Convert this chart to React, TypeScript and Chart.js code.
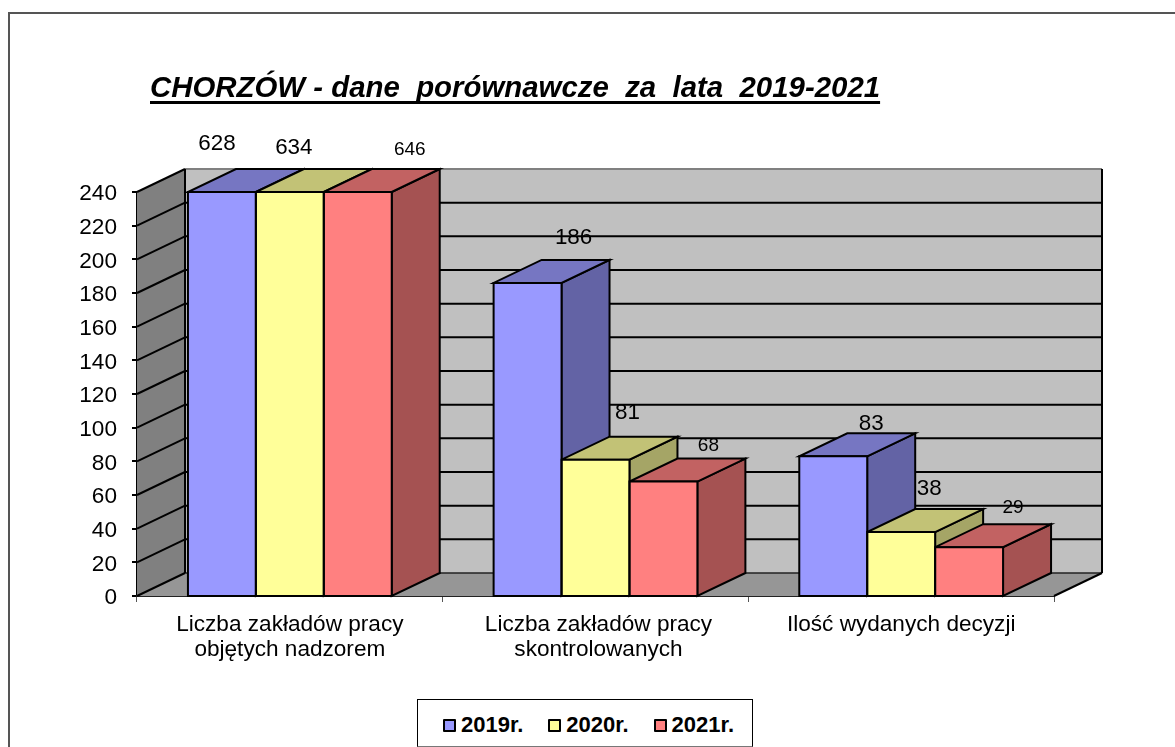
import React, { useEffect, useRef } from "react";
import { Chart, registerables } from "chart.js";

Chart.register(...registerables);

const titleText = "CHORZÓW - dane  porównawcze  za  lata  2019-2021";
const categories = [
  ["Liczba zakładów pracy", "objętych nadzorem"],
  ["Liczba zakładów pracy", "skontrolowanych"],
  ["Ilość wydanych decyzji"],
];
const seriesNames = ["2019r.", "2020r.", "2021r."];
const values2019 = [628, 186, 83];
const values2020 = [634, 81, 38];
const values2021 = [646, 68, 29];
const seriesValues = [values2019, values2020, values2021];

const frontColors = ["#9999FF", "#FFFF99", "#FF8080"];
const topColors = ["#7676C2", "#C2C276", "#C26262"];
const sideColors = ["#6363A5", "#A5A566", "#A55252"];
const labelFontSizes = [22.4, 22.4, 19];
// hand-placed label shifts relative to each bar's top centre
const labelShiftX = [[-5, 46, 38], [4, 32, 28], [52, 45, 44]];
const labelShiftY = [[-48, -45, -32], [-44, -47, -43], [-42, -36, -39]];
// hand-placed shift of the category labels
const categoryShiftX = [0, 3, 0];

const AXIS_MAX = 240;
const AXIS_STEP = 20;
const DEPTH_X = 48;
const DEPTH_Y = 23;
const FONT = "'Liberation Sans', Arial, sans-serif";

function poly(ctx: CanvasRenderingContext2D, pts: number[][], fill?: string, stroke?: string, lw = 2) {
  ctx.beginPath();
  pts.forEach((p, i) => (i ? ctx.lineTo(p[0], p[1]) : ctx.moveTo(p[0], p[1])));
  ctx.closePath();
  if (fill) {
    ctx.fillStyle = fill;
    ctx.fill();
  }
  if (stroke) {
    ctx.strokeStyle = stroke;
    ctx.lineWidth = lw;
    ctx.stroke();
  }
}

function line(ctx: CanvasRenderingContext2D, x1: number, y1: number, x2: number, y2: number, color: string, lw = 2) {
  ctx.beginPath();
  ctx.moveTo(x1, y1);
  ctx.lineTo(x2, y2);
  ctx.strokeStyle = color;
  ctx.lineWidth = lw;
  ctx.stroke();
}

const box3d = {
  id: "box3d",
  afterUpdate(chart: any) {
    // nudge the value-axis labels down to sit on their ticks
    chart.scales.y.getLabelItems(chart.chartArea).forEach((it: any) => {
      it.options.translation = [it.options.translation[0], it.options.translation[1] + 2];
    });
    chart.scales.x.getLabelItems(chart.chartArea).forEach((it: any, i: number) => {
      it.options.translation = [it.options.translation[0] + categoryShiftX[i], it.options.translation[1]];
    });
  },
  beforeDatasetsDraw(chart: any) {
    const { ctx, chartArea: a, scales } = chart;
    const y = scales.y;
    const dx = DEPTH_X;
    const dy = DEPTH_Y;
    ctx.save();
    ctx.lineJoin = "miter";
    // walls
    poly(ctx, [[a.left + dx, a.top - dy], [a.right + dx, a.top - dy], [a.right + dx, a.bottom - dy], [a.left + dx, a.bottom - dy]], "#C0C0C0");
    poly(ctx, [[a.left, a.top], [a.left + dx, a.top - dy], [a.left + dx, a.bottom - dy], [a.left, a.bottom]], "#808080");
    poly(ctx, [[a.left, a.bottom], [a.right, a.bottom], [a.right + dx, a.bottom - dy], [a.left + dx, a.bottom - dy]], "#969696");
    // gridlines on the walls
    y.ticks.forEach((t: any) => {
      const py = y.getPixelForValue(t.value);
      const top = t.value === AXIS_MAX;
      if (t.value !== 0) line(ctx, a.left + dx, py - dy, a.right + dx, py - dy, top ? "#808080" : "#000", 2);
      line(ctx, a.left, py, a.left + dx, py - dy, "#000", 2);
    });
    line(ctx, a.left + dx, a.bottom - dy, a.right + dx, a.bottom - dy, "#222", 1.5);
    line(ctx, a.left + dx, a.top - dy, a.left + dx, a.bottom - dy, "#000", 2);
    line(ctx, a.right + dx, a.top - dy, a.right + dx, a.bottom - dy, "#000", 2);
    line(ctx, a.right, a.bottom, a.right + dx, a.bottom - dy, "#000", 2);

    // top and side faces of every bar, left to right
    const count = chart.data.labels.length;
    for (let c = 0; c < count; c++) {
      chart.data.datasets.forEach((ds: any, s: number) => {
        const el = chart.getDatasetMeta(s).data[c];
        const half = el.width / 2;
        const l = el.x - half;
        const r = el.x + half;
        const t = y.getPixelForValue(Math.min(ds.data[c], AXIS_MAX));
        const b = y.getPixelForValue(0);
        poly(ctx, [[r, t], [r + dx, t - dy], [r + dx, b - dy], [r, b]], sideColors[s], "#000", 2);
        poly(ctx, [[l, t], [r, t], [r + dx, t - dy], [l + dx, t - dy]], topColors[s], "#000", 2);
      });
    }
    ctx.restore();
  },
  afterDatasetsDraw(chart: any) {
    const { ctx, scales } = chart;
    const y = scales.y;
    ctx.save();
    // outlines of the front faces: neighbouring bars share one line
    chart.data.datasets.forEach((ds: any, s: number) => {
      chart.getDatasetMeta(s).data.forEach((el: any, c: number) => {
        const half = el.width / 2;
        const t = y.getPixelForValue(Math.min(ds.data[c], AXIS_MAX));
        const b = y.getPixelForValue(0);
        poly(ctx, [[el.x - half, t], [el.x + half, t], [el.x + half, b], [el.x - half, b]], undefined, "#000", 2);
      });
    });
    chart.data.datasets.forEach((ds: any, s: number) => {
      chart.getDatasetMeta(s).data.forEach((el: any, c: number) => {
        const t = y.getPixelForValue(Math.min(ds.data[c], AXIS_MAX));
        ctx.fillStyle = "#000";
        ctx.font = `${labelFontSizes[s]}px ${FONT}`;
        ctx.textAlign = "center";
        ctx.textBaseline = "middle";
        ctx.fillText(String(ds.data[c]), el.x + labelShiftX[s][c], t + labelShiftY[s][c]);
      });
    });
    ctx.restore();
  },
};

export default function App() {
  const ref = useRef<HTMLCanvasElement>(null);

  useEffect(() => {
    const chart = new Chart(ref.current as HTMLCanvasElement, {
      type: "bar",
      data: {
        labels: categories as any,
        datasets: seriesNames.map((name, i) => ({
          label: name,
          data: seriesValues[i],
          backgroundColor: frontColors[i],
          borderWidth: 0,
          categoryPercentage: 2 / 3,
          barPercentage: 1,
        })),
      },
      plugins: [box3d],
      options: {
        animation: false,
        responsive: false,
        layout: { padding: { left: 0, right: 121, top: 192, bottom: 0 } },
        plugins: { legend: { display: false }, title: { display: false }, tooltip: { enabled: false } },
        scales: {
          y: {
            min: 0,
            max: AXIS_MAX,
            afterFit(scale: any) {
              scale.width = 137;
            },
            ticks: { stepSize: AXIS_STEP, color: "#000", padding: 15, font: { family: FONT, size: 22.6 } },
            grid: { drawOnChartArea: false, drawTicks: true, tickLength: 5, color: "#000", lineWidth: 2 },
            border: { display: true, color: "#000", width: 2 },
          },
          x: {
            afterFit(scale: any) {
              scale.height = 151;
            },
            ticks: { color: "#000", padding: 10, maxRotation: 0, autoSkip: false, font: { family: FONT, size: 22.6, lineHeight: 1.106 } },
            grid: { drawOnChartArea: false, drawTicks: true, tickLength: 6, color: "#555", lineWidth: 1 },
            border: { display: true, color: "#222", width: 2 },
          },
        },
      },
    } as any);
    return () => chart.destroy();
  }, []);

  return (
    <div style={{ position: "fixed", left: 0, top: 0, width: 1175, height: 747, overflow: "hidden", background: "#fff", fontFamily: FONT }}>
      <div style={{ position: "absolute", left: 8, top: 12, width: 1300, height: 800, border: "2px solid #555", boxSizing: "border-box" }} />
      <canvas ref={ref} width={1175} height={747} style={{ position: "absolute", left: 0, top: 0, display: "block" }} />
      <div style={{ position: "absolute", left: 150, top: 69, fontSize: 29.4, lineHeight: "36px", fontWeight: "bold", fontStyle: "italic", textDecoration: "underline", textDecorationThickness: 3, textUnderlineOffset: 4, textDecorationSkipInk: "none", whiteSpace: "pre", color: "#000" }}>
        {titleText}
      </div>
      <div style={{ position: "absolute", left: 417, top: 699, width: 336, height: 48, boxSizing: "border-box", border: "1px solid #000", borderBottomColor: "#777", background: "#fff" }}>
        {seriesNames.map((name, i) => (
          <div key={name} style={{ position: "absolute", left: 25 + i * 105.3, top: 12, height: 26, display: "flex", alignItems: "center", fontSize: 22, fontWeight: "bold", color: "#000" }}>
            <span style={{ width: 13, height: 13, boxSizing: "border-box", border: "2px solid #000", borderRadius: 1, background: frontColors[i], marginRight: 5 }} />
            {name}
          </div>
        ))}
      </div>
    </div>
  );
}
